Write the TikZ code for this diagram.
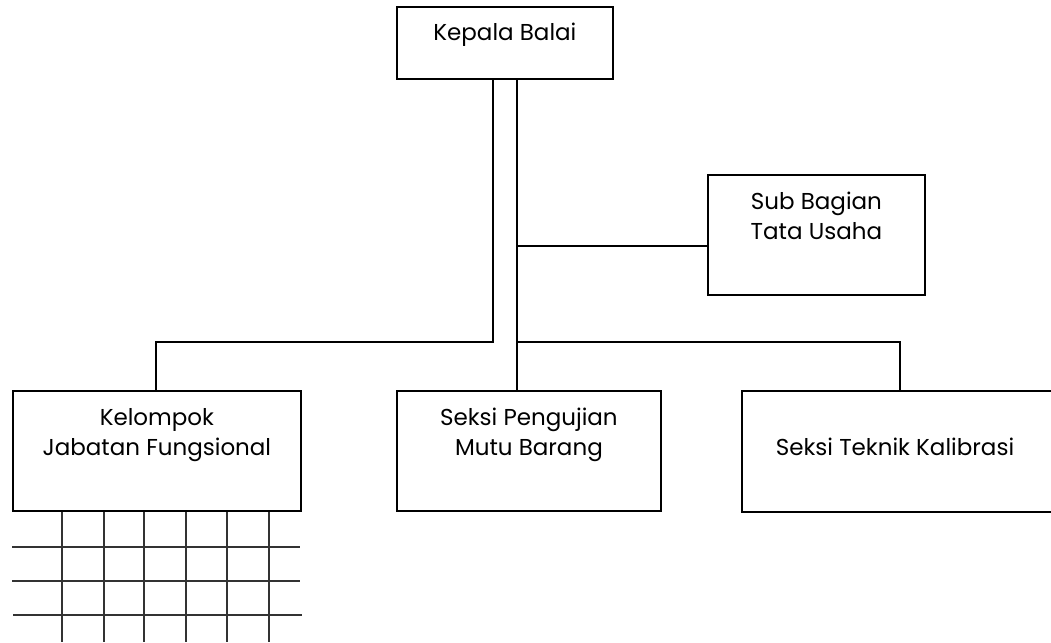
\documentclass[tikz,border=0pt]{standalone}
\usepackage{fontspec}
\setmainfont{Poppins}
\usetikzlibrary{calc}
\begin{document}
\begin{tikzpicture}[x=1pt,y=-1pt,
  box/.style={draw,line width=1.8pt,rectangle,inner sep=0pt,anchor=north west},
  lbl/.style={anchor=base,inner sep=0pt,font=\fontsize{23}{30}\selectfont,align=center},
  conn/.style={line width=1.6pt},
  grid/.style={line width=1.4pt,draw=black!80}]
\useasboundingbox (0,0) rectangle (1051,642);
% boxes
\node[box,minimum width=216pt,minimum height=72pt] (kb) at (396,6) {};
\node[box,minimum width=217pt,minimum height=120pt] (sb) at (707,174) {};
\node[box,minimum width=288pt,minimum height=120pt] (kg) at (12,390) {};
\node[box,minimum width=264pt,minimum height=120pt] (sp) at (396,390) {};
\node[box,minimum width=315pt,minimum height=121pt] (st) at (741,390) {};
% texts (base = last line)
\node[lbl] (tkb) at ($(kb.north)+(0,35)$) {Kepala Balai};
\node[lbl] (tsb) at ($(sb.north)+(0,65)$) {Sub Bagian\\Tata Usaha};
\node[lbl] (tkg) at ($(kg.north)+(0,65)$) {Kelompok\\Jabatan Fungsional};
\node[lbl] (tsp) at ($(sp.north)+(0,65)$) {Seksi Pengujian\\Mutu Barang};
\node[lbl] (tst) at (895,455) {Seksi Teknik Kalibrasi};
% connectors
\coordinate (lt) at ($(kb.south)+(-12,0)$);
\coordinate (rt) at ($(kb.south)+(12,0)$);
\coordinate (kgc) at (156,390);
\coordinate (spc) at (rt |- sp.north);
\coordinate (stc) at (900,390);
\coordinate (tu) at (516,246);
\coordinate (bar) at (516,342);
\draw[conn] (lt) |- ($(kgc)+(0,-48)$) -- (kgc);
\draw[conn] (rt) -- (spc);
\draw[conn] (tu) -- (tu -| sb.west);
\draw[conn] (bar) -| (stc);
% grid below Kelompok
\foreach \x in {62,104,144,186,227,269}
  \draw[grid] (kg.south west -| \x,0) -- (\x,642);
\foreach \y/\a/\b in {547/12/300,581/12/300,615/13/302}
  \draw[grid] (\a,\y) -- (\b,\y);
\end{tikzpicture}
\end{document}
